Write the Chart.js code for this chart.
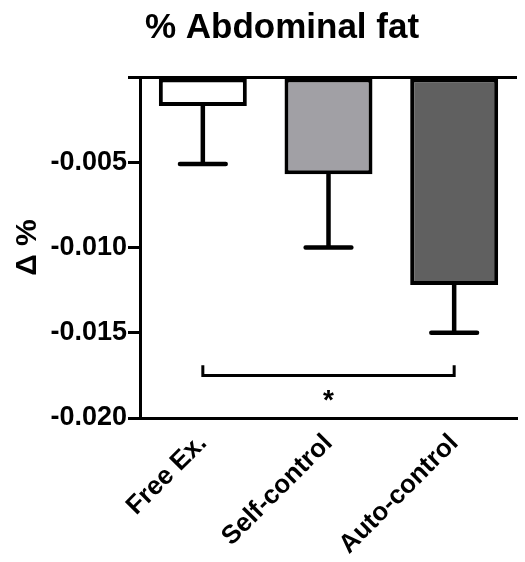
<!DOCTYPE html>
<html>
<head>
<meta charset="utf-8">
<script src="https://cdn.jsdelivr.net/npm/chart.js@4.4.1/dist/chart.umd.min.js"></script>
<style>
  html, body { margin: 0; padding: 0; background: #fff; }
  #wrap { width: 525px; height: 562px; position: relative; }
</style>
</head>
<body>
<div id="wrap"><canvas id="chart"></canvas></div>
<script>
// data
const groups = ['Free Ex.', 'Self-control', 'Auto-control'];
const means = [-0.0017, -0.0057, -0.0122];
const errorEnds = [-0.0051, -0.0100, -0.0150];
const barColors = ['#ffffff', '#a1a0a5', '#606060'];
const yTicks = [0, -0.005, -0.010, -0.015, -0.020];

// significance bracket: from group 0 to group 2
const bracketFrom = 0;
const bracketTo = 2;
const bracketLevel = -0.0175;
const bracketTip = -0.0169;
const starLevel = -0.0187;

const FONT = "'Liberation Sans', Arial, sans-serif";

const errorBars = {
  id: 'errorBars',
  afterDatasetsDraw(chart) {
    const ctx = chart.ctx;
    const y = chart.scales.y;
    const meta = chart.getDatasetMeta(0);
    ctx.save();
    ctx.strokeStyle = '#000';
    ctx.lineWidth = 4.5;
    ctx.lineCap = 'round';
    meta.data.forEach((bar, i) => {
      const x = bar.x;
      const y0 = y.getPixelForValue(means[i]);
      const y1 = y.getPixelForValue(errorEnds[i]);
      const half = bar.width * 0.26;
      ctx.beginPath();
      ctx.moveTo(x, y0);
      ctx.lineTo(x, y1);
      ctx.moveTo(x - half, y1);
      ctx.lineTo(x + half, y1);
      ctx.stroke();
    });

    // bracket and star
    const xa = meta.data[bracketFrom].x;
    const xb = meta.data[bracketTo].x;
    const yl = y.getPixelForValue(bracketLevel);
    const yt = y.getPixelForValue(bracketTip);
    ctx.lineWidth = 3;
    ctx.lineCap = 'butt';
    ctx.beginPath();
    ctx.moveTo(xa, yt);
    ctx.lineTo(xa, yl);
    ctx.lineTo(xb, yl);
    ctx.lineTo(xb, yt);
    ctx.stroke();
    ctx.fillStyle = '#000';
    ctx.font = 'bold 28px ' + FONT;
    ctx.textAlign = 'center';
    ctx.textBaseline = 'middle';
    ctx.fillText('*', (xa + xb) / 2, y.getPixelForValue(starLevel) + 5);

    // title
    ctx.font = 'bold 35px ' + FONT;
    ctx.textBaseline = 'alphabetic';
    ctx.fillText('% Abdominal fat', 282, 38);
    ctx.restore();
  }
};

new Chart(document.getElementById('chart').getContext('2d'), {
  type: 'bar',
  data: {
    labels: groups,
    datasets: [
      {
        data: means,
        backgroundColor: barColors,
        borderColor: '#000',
        borderWidth: 4,
        borderSkipped: false,
        barPercentage: 0.7,
        categoryPercentage: 1,
      },
    ],
  },
  options: {
    responsive: true,
    maintainAspectRatio: false,
    animation: false,
    layout: { padding: { top: 77, right: 8, left: 0, bottom: 0 } },
    plugins: {
      legend: { display: false },
      tooltip: { enabled: false },
      title: { display: false },
    },
    scales: {
      x: {
        grid: { display: false },
        border: { display: true, color: '#000', width: 3 },
        ticks: {
          color: '#000',
          font: { family: FONT, size: 26, weight: 'bold' },
          minRotation: 45,
          maxRotation: 45,
          padding: 2,
        },
        afterFit: scale => { scale.height = 144; },
      },
      y: {
        min: -0.02,
        max: 0,
        afterBuildTicks: scale => {
          scale.ticks = yTicks.map(v => ({ value: v }));
        },
        grid: {
          drawOnChartArea: true,
          color: c => (c.tick && c.tick.value === 0 ? '#000' : 'rgba(0,0,0,0)'),
          lineWidth: 3,
          tickColor: '#000',
          tickLength: 12,
        },
        border: { display: true, color: '#000', width: 3 },
        ticks: {
          color: '#000',
          font: { family: FONT, size: 27, weight: 'bold' },
          padding: 1,
          callback: v => (v === 0 ? '' : v.toFixed(3)),
        },
        title: {
          display: true,
          text: 'Δ %',
          color: '#000',
          font: { family: FONT, size: 30, weight: 'bold' },
          padding: { top: 10, bottom: 0 },
        },
        afterFit: scale => { scale.width = 140; },
      },
    },
  },
  plugins: [errorBars],
});
</script>
</body>
</html>
